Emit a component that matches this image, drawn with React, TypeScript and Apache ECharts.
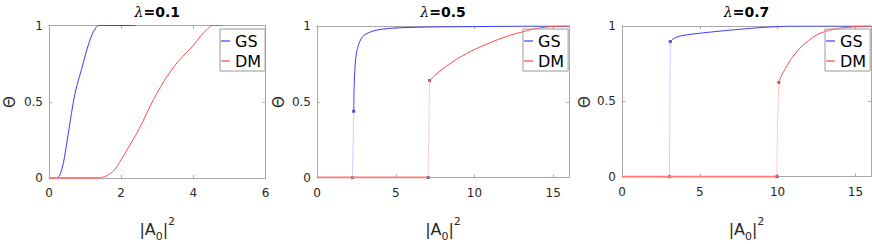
import React, { useEffect, useRef } from "react";
import * as echarts from "echarts";

// ---------- data ----------
const titles = ["0.1", "0.5", "0.7"];
const xMax = [6, 16, 16];
const xInterval = [2, 5, 5];
const yTicks = [0, 0.5, 1];

// lambda = 0.1 (continuous)
const gs01Zero: number[][] = [[0, 0], [0.22, 0]];
const gs01: number[][] = [
  [0.22, 0], [0.3, 0.02], [0.4, 0.1], [0.5, 0.24], [0.6, 0.39], [0.7, 0.53],
  [0.8, 0.63], [0.9, 0.71], [1.0, 0.8], [1.1, 0.88], [1.2, 0.945], [1.3, 0.985],
  [1.37, 1], [2.4, 1],
];
const dm01Zero: number[][] = [[0, 0], [1.4, 0]];
const dm01: number[][] = [
  [1.4, 0], [1.6, 0.015], [1.8, 0.05], [2.0, 0.12], [2.2, 0.2], [2.4, 0.28],
  [2.6, 0.37], [2.8, 0.47], [3.0, 0.56], [3.2, 0.64], [3.4, 0.71], [3.6, 0.77],
  [3.8, 0.82], [4.0, 0.87], [4.2, 0.93], [4.4, 0.98], [4.52, 1], [4.8, 1],
];

// lambda = 0.5 (jump)
const gs05Zero: number[][] = [[0, 0], [2.25, 0]];
const gs05Jump: number[][] = [[2.25, 0], [2.33, 0.437]];
const gs05: number[][] = [
  [2.33, 0.437], [2.36, 0.6], [2.42, 0.74], [2.5, 0.82], [2.65, 0.88],
  [2.8, 0.915], [3.0, 0.94], [3.5, 0.965], [4.0, 0.977], [5.0, 0.987],
  [7.0, 0.993], [10.0, 0.996], [14.0, 1], [16, 1],
];
const dm05Zero: number[][] = [[0, 0], [7.05, 0]];
const dm05Jump: number[][] = [[7.05, 0], [7.15, 0.64]];
const dm05: number[][] = [
  [7.15, 0.64], [7.5, 0.675], [8.0, 0.72], [8.5, 0.755], [9.0, 0.79],
  [10.0, 0.845], [11.0, 0.89], [12.0, 0.93], [13.0, 0.96], [14.0, 0.985],
  [15.0, 0.997], [16, 1],
];

// lambda = 0.7 (jump)
const gs07Zero: number[][] = [[0, 0], [3.05, 0]];
const gs07Jump: number[][] = [[3.05, 0], [3.1, 0.896]];
const gs07: number[][] = [
  [3.1, 0.896], [3.3, 0.915], [3.6, 0.929], [4.0, 0.939], [5.0, 0.952],
  [6.0, 0.963], [7.0, 0.973], [8.0, 0.982], [9.0, 0.99], [10.0, 0.996],
  [11.0, 1], [16, 1],
];
const dm07Zero: number[][] = [[0, 0], [9.95, 0]];
const dm07Jump: number[][] = [[9.95, 0], [9.99, 0.35], [10.08, 0.626]];
const dm07: number[][] = [
  [10.08, 0.626], [10.2, 0.66], [10.4, 0.7], [10.6, 0.735], [10.8, 0.77],
  [11.0, 0.8], [11.5, 0.86], [12.0, 0.905], [12.5, 0.94], [13.0, 0.962],
  [13.5, 0.976], [14.0, 0.986], [15.0, 0.995], [16, 1],
];

const panels = [
  { gsZero: gs01Zero, gs: gs01, dmZero: dm01Zero, dm: dm01, gsJump: null as number[][] | null, dmJump: null as number[][] | null },
  { gsZero: gs05Zero, gs: gs05, dmZero: dm05Zero, dm: dm05, gsJump: gs05Jump, dmJump: dm05Jump },
  { gsZero: gs07Zero, gs: gs07, dmZero: dm07Zero, dm: dm07, gsJump: gs07Jump, dmJump: dm07Jump },
];

// ---------- layout ----------
const grids = [
  { left: 49, top: 25.5, width: 216.5, height: 152.5 },
  { left: 317, top: 26, width: 252, height: 151.5 },
  { left: 622, top: 26, width: 249, height: 150.7 },
];
const legendPos = [
  { left: 220, top: 29 },
  { left: 523, top: 29 },
  { left: 825, top: 29 },
];
const thetaPos = [
  { x: 10, y: 102 },
  { x: 279, y: 102 },
  { x: 585, y: 102 },
];

const FONT = "DejaVu Sans";
const BLUE = "#3a3aff";
const RED = "#ff4a4a";
const AXIS = "#a8a8a8";
const TXT = "#262626";

export default function App() {
  const ref = useRef<HTMLDivElement>(null);
  useEffect(() => {
    document.body.style.margin = "0";
    const chart = echarts.init(ref.current!, null, { renderer: "svg" });

    const xAxis: any[] = [];
    const yAxis: any[] = [];
    const series: any[] = [];
    const graphic: any[] = [];

    grids.forEach((g, i) => {
      const common = {
        gridIndex: i,
        type: "value",
        axisLine: { show: true, onZero: false, lineStyle: { color: AXIS, width: 1 } },
        axisTick: { show: true, inside: true, length: 3, lineStyle: { color: AXIS } },
        splitLine: { show: false },
      };
      xAxis.push({
        ...common,
        position: "bottom",
        min: 0,
        max: xMax[i],
        interval: xInterval[i],
        axisLabel: {
          show: true, color: TXT, fontFamily: FONT, fontSize: 12, margin: 9,
          showMaxLabel: xMax[i] % xInterval[i] === 0,
        },
      });
      yAxis.push({
        ...common,
        position: "left",
        min: yTicks[0],
        max: yTicks[yTicks.length - 1],
        interval: yTicks[1] - yTicks[0],
        axisLabel: { show: true, color: TXT, fontFamily: FONT, fontSize: 12, margin: 6 },
      });
    });
    grids.forEach((g, i) => {
      xAxis.push({
        gridIndex: i, type: "value", position: "top", min: 0, max: xMax[i], interval: xInterval[i],
        axisLine: { show: true, onZero: false, lineStyle: { color: AXIS } },
        axisTick: { show: true, inside: true, length: 3, lineStyle: { color: AXIS } },
        axisLabel: { show: false }, splitLine: { show: false },
      });
      yAxis.push({
        gridIndex: i, type: "value", position: "right", min: 0, max: 1, interval: 0.5,
        axisLine: { show: true, onZero: false, lineStyle: { color: AXIS } },
        axisTick: { show: true, inside: true, length: 3, lineStyle: { color: AXIS } },
        axisLabel: { show: false }, splitLine: { show: false },
      });
    });

    panels.forEach((p, i) => {
      const base = { type: "line", xAxisIndex: i, yAxisIndex: i, symbol: "none", silent: true };
      series.push({ ...base, name: "gsZero", data: p.gsZero, lineStyle: { color: BLUE, width: 1 } });
      if (p.gsJump) {
        series.push({ ...base, name: "gsJump", data: p.gsJump, lineStyle: { color: "#9c9cff", width: 1, type: "dotted" } });
      }
      series.push({ ...base, name: "GS", data: p.gs, smooth: 0.3, itemStyle: { color: BLUE }, lineStyle: { color: BLUE, width: 1 } });
      if (p.dmJump) {
        series.push({ ...base, name: "dmJump", data: p.dmJump, lineStyle: { color: "#ff9c9c", width: 1, type: "dotted" } });
      }
      series.push({ ...base, name: "dmZero", data: p.dmZero, lineStyle: { color: "#ff7a7a", width: 2 } });
      series.push({ ...base, name: "DM", data: p.dm, smooth: 0.3, itemStyle: { color: RED }, lineStyle: { color: RED, width: 1 } });
      if (p.gsJump && p.dmJump) {
        series.push({
          type: "scatter", name: "jumpLow", xAxisIndex: i, yAxisIndex: i, symbol: "rect", symbolSize: 3, silent: true,
          data: [p.gsJump[0], p.dmJump[0]], itemStyle: { color: "#6a1a4a" },
        });
        series.push({
          type: "scatter", name: "gsTop", xAxisIndex: i, yAxisIndex: i, symbol: "rect", symbolSize: 3, silent: true,
          data: [p.gsJump[p.gsJump.length - 1]], itemStyle: { color: "#1a1acc" },
        });
        series.push({
          type: "scatter", name: "dmTop", xAxisIndex: i, yAxisIndex: i, symbol: "rect", symbolSize: 3, silent: true,
          data: [p.dmJump[p.dmJump.length - 1]], itemStyle: { color: "#cc1a1a" },
        });
      }
    });

    grids.forEach((g, i) => {
      const cx = g.left + g.width / 2;
      graphic.push({
        type: "text", x: cx, y: 12,
        style: {
          text: "{l|λ}{b|=" + titles[i] + "}",
          align: "center", verticalAlign: "middle",
          rich: {
            l: { fontFamily: "DejaVu Serif", fontStyle: "italic", fontSize: 14, fill: "#000" },
            b: { fontFamily: FONT, fontWeight: "bold", fontSize: 14, fill: "#000" },
          },
        },
      });
      graphic.push({
        type: "text", x: cx, y: 229,
        style: {
          text: "{m||A}{sub|0}{m||}{sup|2}",
          align: "center", verticalAlign: "middle",
          rich: {
            m: { fontFamily: FONT, fontSize: 16, fill: TXT, lineHeight: 26 },
            sub: { fontFamily: FONT, fontSize: 11, fill: TXT, verticalAlign: "bottom", lineHeight: 12 },
            sup: { fontFamily: FONT, fontSize: 11, fill: TXT, verticalAlign: "top", lineHeight: 12 },
          },
        },
      });
      graphic.push({
        type: "text", x: thetaPos[i].x, y: thetaPos[i].y, rotation: Math.PI / 2,
        style: { text: "Θ", fontFamily: FONT, fontSize: 15, fill: TXT, align: "center", verticalAlign: "middle" },
      });
    });

    const legend = legendPos.map((lp) => ({
      data: ["GS", "DM"],
      orient: "vertical",
      left: lp.left,
      top: lp.top,
      borderColor: "#9a9a9a",
      borderWidth: 1,
      padding: [4, 4, 2, 1],
      icon: "rect",
      itemWidth: 9,
      itemHeight: 1.2,
      itemGap: 4,
      itemTextGap: 1,
      selectedMode: false,
      textStyle: { fontFamily: FONT, fontSize: 16, lineHeight: 16, color: "#000" },
    }));

    chart.setOption({
      animation: false,
      grid: grids.map((g) => ({ ...g, containLabel: false })),
      xAxis,
      yAxis,
      series,
      legend,
      graphic,
    });
    return () => chart.dispose();
  }, []);
  return <div ref={ref} style={{ width: 872, height: 244 }} />;
}
